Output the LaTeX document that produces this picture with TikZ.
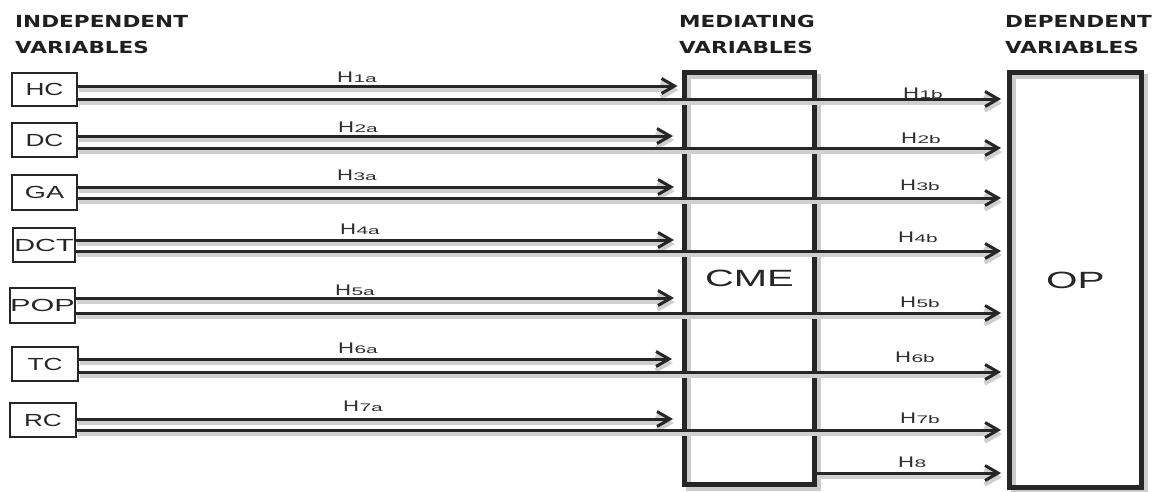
\documentclass[tikz,border=0pt]{standalone}
\usepackage{fontspec}
\setmainfont{Liberation Sans}
\newfontfamily\headfont{DejaVu Sans}
\usetikzlibrary{arrows.meta}
% horizontally widened text
\newcommand{\wid}[2]{\scalebox{#1}[1]{#2}}
% hypothesis label: H with a widened index
\newcommand{\hyp}[1]{\wid{1.44}{H}\kern0.3pt\raisebox{-0.5pt}{\wid{1.9}{\fontsize{11}{11}\selectfont #1}}}

\begin{document}
\begin{tikzpicture}[x=1pt,y=-1pt,
  ivbox/.style={draw=black!85, line width=1.8pt, minimum width=65pt, minimum height=33pt,
    inner sep=0pt, font=\fontsize{17.5}{20}\selectfont, text=black!85},
  bigbox/.style={draw=black!85, line width=5pt, inner sep=0pt,
    font=\fontsize{23.5}{26}\selectfont, text=black!85,
    preaction={draw=gray!40, line width=5pt, transform canvas={shift={(4pt,-4pt)}}}},
  hdr/.style={font=\headfont\fontsize{16.6}{26}\selectfont\bfseries, inner sep=0pt,
    anchor=north west, text=black!88},
  conn/.style={draw=black!85, line width=3pt, -{Straight Barb[length=13pt,width=15pt]},
    preaction={draw=gray!38, line width=4.5pt, transform canvas={shift={(1pt,-4pt)}}}},
  hlab/.style={font=\fontsize{15.4}{16}\selectfont, inner sep=0pt, anchor=base west, text=black!82}
]
\fill[white] (0,0) rectangle (1161,491);
\useasboundingbox (0,0) rectangle (1161,491);

% column headings
\node[hdr] (ivh) at (15,9)   {\wid{1.3}{\begin{tabular}{@{}l@{}}INDEPENDENT\\VARIABLES\end{tabular}}};
\node[hdr] (mvh) at (679,9)  {\wid{1.3}{\begin{tabular}{@{}l@{}}MEDIATING\\VARIABLES\end{tabular}}};
\node[hdr] (dvh) at (1005,9) {\wid{1.3}{\begin{tabular}{@{}l@{}}DEPENDENT\\VARIABLES\end{tabular}}};

% independent variables
\node[ivbox] (hc)  at (44.5,89.5) {\wid{1.5}{HC}};
\node[ivbox, minimum height=34pt] (dc) at (44.5,140) {\wid{1.5}{DC}};
\node[ivbox, minimum height=35pt] (ga) at (44.5,192.5) {\wid{1.55}{GA}};
\node[ivbox, minimum width=62pt, minimum height=34pt] (dct) at (44,245) {\wid{1.65}{DCT}};
\node[ivbox, minimum height=35pt] (pop) at (42.5,305.5) {\wid{1.75}{POP}};
\node[ivbox, minimum width=66pt, minimum height=34pt] (tc) at (45,364) {\wid{1.5}{TC}};
\node[ivbox, minimum width=66pt, minimum height=34pt] (rc) at (43,420) {\wid{1.5}{RC}};

% mediating and dependent variables
\node[bigbox, minimum width=130pt, minimum height=412pt] (cme) at (749.5,278.5) {\wid{1.7}{CME}};
\node[bigbox, minimum width=131.5pt, minimum height=415pt] (op) at (1075.3,280) {\wid{1.72}{OP}};

% hypothesised paths: upper line to CME, lower line through to OP
\foreach \n/\ya/\yb/\xa/\ba/\xb/\bb/\k/\s in {
  hc/86/99/337/82/903/98/1/4.5pt,
  dc/136/148/338/132/901/143/2/9pt,
  ga/187/198/337/180/900/190/3/8pt,
  dct/240/251/340/234/898/242/4/8pt,
  pop/298/313/335/295/900/307/5/8pt,
  tc/359/372/338/353/895/362/6/10pt,
  rc/419/430/343/411/900/423/7/9pt}{
  \draw[conn, shorten >=\s] (\n.east |- 0,\ya) -- (cme.west |- 0,\ya);
  \draw[conn, shorten >=6pt] (\n.east |- 0,\yb) -- (op.west |- 0,\yb);
  \node[hlab] (h\k a) at (\xa,\ba) {\hyp{\k a}};
  \node[hlab] (h\k b) at (\xb,\bb) {\hyp{\k b}};
}
\draw[conn, shorten >=6pt] (cme.east |- 0,473) -- (op.west |- 0,473);
\node[hlab] (h8) at (898,467) {\hyp{8}};
\end{tikzpicture}
\end{document}
